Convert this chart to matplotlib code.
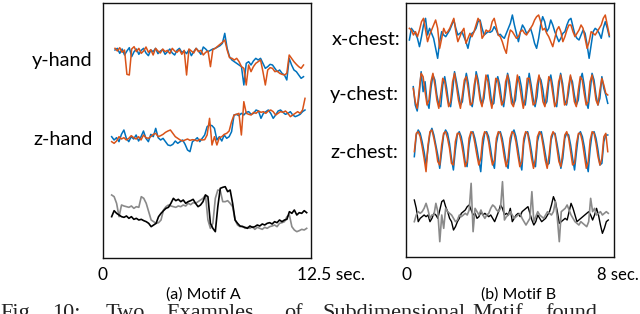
import numpy as np
import matplotlib
matplotlib.use("Agg")
import matplotlib.pyplot as plt

# ---------------- data (hand-read signal levels; larger = lower on the page) -------------
# Motif A (12.5 s window)
a_yhand_blue = [75, 70, 85, 72, 90, 78, 68, 95, 80, 72,
                88, 76, 70, 84, 92, 75, 80, 70, 86, 78,
                74, 88, 80, 72, 84, 90, 76, 70, 82, 78,
                86, 74, 92, 80, 70, 78, 88, 66, 72, 80,
                76, 72, 70, 66, 62, 55, 25, 70, 95, 105,
                110, 115, 120, 125, 180, 115, 110, 120, 108, 100,
                105, 100, 115, 130, 125, 118, 120, 130, 140, 135,
                145, 150, 165, 100, 120, 135, 140, 150, 160, 155]
a_yhand_orange = [70, 78, 68, 82, 75, 148, 150, 72, 65, 80,
                  70, 85, 78, 66, 82, 74, 90, 70, 78, 84,
                  72, 80, 76, 86, 70, 78, 82, 74, 88, 76,
                  150, 72, 78, 84, 70, 80, 76, 90, 82, 78,
                  125, 74, 70, 64, 58, 52, 45, 75, 98, 100,
                  105, 100, 110, 125, 130, 180, 120, 140, 125, 115,
                  110, 105, 140, 180, 135, 128, 130, 140, 138, 145,
                  148, 150, 145, 90, 100, 110, 118, 125, 130, 120]
a_zhand_blue = [125, 135, 128, 140, 118, 105, 130, 140, 125, 132,
                120, 138, 125, 108, 130, 140, 118, 125, 100, 128,
                135, 130, 140, 150, 152, 148, 138, 145, 140, 135,
                148, 165, 170, 140, 135, 128, 140, 130, 120, 95,
                90, 92, 100, 135, 125, 138, 120, 130, 125, 110,
                60, 58, 62, 55, 60, 52, 50, 58, 55, 45,
                48, 70, 55, 50, 45, 55, 70, 60, 48, 45,
                52, 58, 55, 50, 60, 65, 62, 58, 50, 45]
a_zhand_orange = [140, 145, 138, 125, 132, 128, 135, 130, 122, 128,
                  132, 125, 135, 120, 128, 130, 125, 118, 115, 125,
                  122, 118, 112, 108, 105, 115, 125, 130, 135, 138,
                  135, 132, 136, 134, 135, 138, 133, 135, 134, 120,
                  70, 150, 125, 150, 128, 125, 118, 115, 108, 80,
                  60, 58, 55, 120, 20, 55, 58, 60, 52, 55,
                  48, 52, 50, 55, 48, 45, 50, 60, 55, 50,
                  52, 48, 55, 65, 60, 55, 50, 55, 45, 10]
a_other_black = [140, 122, 130, 135, 140, 142, 138, 145, 140, 148,
                 145, 150, 148, 152, 155, 160, 170, 165, 160, 140,
                 130, 122, 115, 112, 100, 85, 92, 88, 95, 90,
                 100, 95, 92, 88, 100, 110, 105, 95, 75, 80,
                 160, 175, 185, 110, 55, 52, 50, 65, 60, 100,
                 150, 160, 168, 170, 172, 175, 168, 172, 170, 165,
                 168, 162, 165, 160, 158, 162, 155, 158, 150, 155,
                 150, 148, 125, 130, 120, 135, 128, 130, 122, 128]
a_other_gray = [75, 80, 100, 140, 105, 108, 110, 112, 108, 115,
                110, 112, 80, 85, 100, 125, 150, 155, 160, 158,
                150, 120, 110, 105, 108, 110, 112, 108, 110, 105,
                108, 100, 104, 98, 100, 95, 90, 85, 75, 150,
                175, 160, 85, 60, 62, 95, 95, 92, 100, 110,
                150, 165, 170, 168, 175, 172, 175, 170, 178, 172,
                175, 178, 172, 175, 170, 168, 165, 170, 160, 158,
                155, 140, 135, 170, 180, 185, 182, 178, 180, 175]

# Motif B (8 s window)
b_xchest_blue = [105, 70, 78, 85, 100, 125, 95, 60, 40, 90,
                 70, 85, 100, 130, 160, 110, 80, 90, 95, 85,
                 75, 60, 45, 70, 90, 85, 80, 95, 110, 130,
                 100, 85, 80, 70, 50, 45, 70, 90, 85, 80,
                 82, 78, 65, 75, 90, 88, 95, 100, 85, 70,
                 55, 30, 60, 85, 110, 80, 60, 70, 85, 80,
                 70, 90, 115, 130, 100, 60, 35, 50, 80, 70,
                 45, 60, 80, 95, 110, 100, 85, 80, 60, 45,
                 40, 65, 90, 100, 105, 90, 75, 85, 120, 160,
                 120, 80, 70, 75, 85, 100, 70, 50, 70, 95]
b_xchest_orange = [70, 75, 90, 80, 95, 75, 50, 40, 75, 110,
                   90, 75, 60, 45, 70, 130, 100, 70, 85, 80,
                   70, 55, 40, 80, 110, 95, 80, 70, 115, 100,
                   85, 95, 80, 60, 40, 50, 100, 90, 75, 80,
                   75, 50, 40, 65, 90, 95, 110, 130, 145, 100,
                   75, 80, 90, 100, 95, 80, 75, 85, 90, 80,
                   70, 60, 45, 35, 30, 50, 75, 70, 85, 95,
                   110, 125, 100, 75, 65, 80, 110, 95, 75, 60,
                   60, 80, 95, 85, 75, 60, 70, 100, 130, 110,
                   80, 85, 90, 80, 70, 60, 40, 30, 60, 90]
b_ychest_blue = [245, 300, 318, 270, 200, 260, 230, 290, 310, 250,
                 210, 225, 270, 300, 305, 240, 215, 250, 295, 305,
                 260, 200, 230, 265, 300, 290, 240, 205, 235, 290,
                 305, 265, 200, 225, 270, 300, 280, 220, 210, 250,
                 300, 295, 235, 215, 240, 285, 305, 260, 205, 230,
                 275, 300, 285, 225, 215, 245, 295, 300, 250, 205,
                 240, 280, 305, 275, 215, 225, 255, 300, 290, 230,
                 210, 245, 295, 305, 250, 205, 235, 285, 300, 265,
                 215, 230, 270, 300, 285, 225, 205, 240, 290, 310,
                 260, 205, 225, 270, 300, 280, 215, 250, 270, 295]
b_ychest_orange = [250, 290, 310, 255, 205, 215, 260, 300, 285, 230,
                   205, 240, 285, 310, 265, 220, 230, 270, 305, 290,
                   230, 205, 245, 285, 310, 270, 225, 215, 255, 300,
                   295, 240, 210, 240, 285, 305, 260, 210, 230, 280,
                   310, 270, 220, 225, 265, 300, 290, 230, 210, 250,
                   295, 305, 255, 210, 235, 275, 310, 280, 220, 220,
                   260, 300, 295, 240, 210, 240, 290, 305, 260, 215,
                   225, 265, 305, 290, 230, 210, 250, 300, 295, 245,
                   210, 245, 290, 305, 255, 215, 225, 265, 300, 290,
                   230, 210, 240, 285, 300, 255, 220, 240, 265, 270]
b_zchest_blue = [125, 60, 45, 55, 80, 110, 150, 100, 55, 40,
                 60, 90, 120, 160, 110, 60, 45, 55, 85, 130,
                 165, 105, 60, 50, 65, 95, 140, 155, 90, 55,
                 50, 70, 100, 135, 170, 95, 55, 50, 65, 100,
                 140, 160, 85, 55, 50, 70, 105, 145, 160, 90,
                 55, 45, 65, 100, 140, 165, 85, 55, 50, 75,
                 110, 150, 155, 80, 55, 50, 80, 115, 150, 145,
                 75, 55, 55, 85, 120, 160, 130, 70, 55, 60,
                 90, 130, 165, 110, 60, 50, 65, 95, 140, 170,
                 100, 55, 50, 70, 105, 150, 145, 80, 60, 60]
b_zchest_orange = [110, 55, 50, 65, 95, 130, 170, 90, 50, 45,
                   70, 100, 140, 150, 90, 55, 50, 70, 100, 145,
                   150, 80, 55, 55, 80, 115, 155, 140, 70, 50,
                   55, 85, 120, 150, 130, 70, 50, 55, 80, 120,
                   150, 135, 70, 50, 55, 85, 125, 155, 130, 70,
                   50, 55, 80, 120, 155, 140, 70, 50, 55, 90,
                   130, 160, 130, 65, 50, 60, 95, 135, 160, 120,
                   65, 50, 60, 100, 140, 155, 110, 60, 50, 70,
                   110, 150, 145, 85, 55, 55, 80, 120, 160, 140,
                   75, 50, 55, 85, 125, 150, 130, 65, 55, 110]
b_other_black = [255, 280, 320, 310, 305, 300, 305, 300, 320, 310,
                 295, 300, 310, 285, 260, 255, 275, 290, 310, 320,
                 345, 335, 320, 310, 295, 290, 285, 275, 270, 285,
                 300, 295, 310, 305, 290, 300, 295, 300, 305, 300,
                 310, 320, 305, 290, 270, 280, 300, 295, 300, 280,
                 320, 310, 300, 295, 305, 290, 285, 280, 275, 295,
                 315, 330, 320, 300, 310, 320, 315, 310, 300, 290,
                 270, 245, 260, 290, 325, 320, 315, 310, 315, 290,
                 265, 280, 300, 320, 315, 310, 305, 300, 295, 290,
                 300, 315, 300, 280, 300, 330, 355, 340, 320, 315]
b_other_gray = [320, 300, 290, 295, 290, 280, 265, 285, 310, 300,
                300, 265, 290, 380, 300, 340, 280, 290, 295, 300,
                310, 320, 315, 300, 305, 300, 295, 300, 285, 205,
                350, 280, 290, 300, 285, 300, 310, 300, 295, 280,
                270, 275, 285, 290, 280, 200, 315, 305, 300, 290,
                300, 310, 305, 300, 295, 310, 320, 330, 320, 310,
                230, 320, 305, 290, 300, 305, 310, 300, 290, 295,
                300, 290, 260, 310, 380, 290, 285, 280, 270, 285,
                300, 310, 320, 325, 330, 320, 325, 330, 335, 320,
                250, 290, 280, 300, 295, 290, 300, 295, 290, 295]

row_labels_a = ["y-hand", "z-hand"]
row_labels_b = ["x-chest:", "y-chest:", "z-chest:"]
axis_max_a = "12.5 sec."
axis_max_b = "8 sec."
titles = ["(a) Motif A", "(b) Motif B"]
caption_words = ["Fig.", "10:", "Two", "Examples", "of", "Subdimensional", "Motif", "found"]

# ---------------- styling / layout ----------------
BLUE = "#0072BD"
ORANGE = "#D95319"
BLACK = "#000000"
GRAY = "#8a8a8a"
SANS = ["Lato", "DejaVu Sans"]
SERIF = ["Liberation Serif", "DejaVu Serif"]

W, H = 640, 314
fig = plt.figure(figsize=(6.4, 3.14), dpi=100)


def px_axes(x0, y0, x1, y1):
    return fig.add_axes([x0 / W, 1 - y1 / H, (x1 - x0) / W, (y1 - y0) / H])


def ftext(x, y, s, **kw):
    fig.text(x / W, 1 - y / H, s, **kw)


def trace(ax, vals, t0, t1, base, color, lw=1.1, z=2):
    v = np.asarray(vals, dtype=float)
    t = np.linspace(t0, t1, len(v))
    ax.plot(t, base + v / 3.0, color=color, lw=lw, zorder=z, solid_joinstyle="round")


# Panel A
axA = px_axes(103, 3, 311, 258)
axA.set_xlim(0, 12.5)
axA.set_ylim(255, 0)
trace(axA, a_yhand_blue, 0.72, 12.05, 22, BLUE)
trace(axA, a_yhand_orange, 0.72, 12.05, 22, ORANGE, z=3)
trace(axA, a_zhand_blue, 0.52, 12.14, 92, BLUE)
trace(axA, a_zhand_orange, 0.52, 12.14, 92, ORANGE, z=3)
trace(axA, a_other_gray, 0.52, 12.24, 167, GRAY, lw=1.2)
trace(axA, a_other_black, 0.52, 12.24, 167, BLACK, lw=1.2, z=3)

# Panel B
axB = px_axes(406, 3, 614, 257)
axB.set_xlim(0, 8)
axB.set_ylim(254, 0)
trace(axB, b_xchest_blue, 0.13, 7.82, 2, BLUE)
trace(axB, b_xchest_orange, 0.13, 7.82, 2, ORANGE, z=3)
trace(axB, b_ychest_blue, 0.28, 7.76, 2, BLUE)
trace(axB, b_ychest_orange, 0.28, 7.76, 2, ORANGE, z=3)
trace(axB, b_zchest_blue, 0.32, 7.76, 112, BLUE)
trace(axB, b_zchest_orange, 0.32, 7.76, 112, ORANGE, z=3)
trace(axB, b_other_gray, 0.32, 7.78, 112, GRAY, lw=1.2, z=3)
trace(axB, b_other_black, 0.32, 7.78, 112, BLACK, lw=1.0, z=2)

for ax in (axA, axB):
    ax.set_xticks([])
    ax.set_yticks([])
    for sp in ax.spines.values():
        sp.set_linewidth(1.0)
        sp.set_color("#111111")

# row labels
ftext(32, 66, row_labels_a[0], fontsize=14.3, family=SANS, va="baseline", ha="left")
ftext(33, 145, row_labels_a[1], fontsize=14.3, family=SANS, va="baseline", ha="left")
ftext(332, 45, row_labels_b[0], fontsize=14.3, family=SANS, va="baseline", ha="left")
ftext(330, 100, row_labels_b[1], fontsize=14.3, family=SANS, va="baseline", ha="left")
ftext(330, 158, row_labels_b[2], fontsize=14.3, family=SANS, va="baseline", ha="left")

# axis end labels
ftext(103, 280, "0", fontsize=12.5, family=SANS, va="baseline", ha="center")
ftext(297, 280, axis_max_a, fontsize=12.5, family=SANS, va="baseline", ha="left")
ftext(406, 280, "0", fontsize=12.5, family=SANS, va="baseline", ha="center")
ftext(597, 280, axis_max_b, fontsize=12, family=SANS, va="baseline", ha="left")

# panel titles
ftext(203, 299, titles[0], fontsize=11.5, family=SANS, va="baseline", ha="center")
ftext(519, 299, titles[1], fontsize=11.5, family=SANS, va="baseline", ha="center")

# caption line, clipped by the bottom edge as in the reference
cap_x = [0, 52, 106, 166, 284, 322, 472, 545]
for w, x in zip(caption_words, cap_x):
    ftext(x, 318, w, fontsize=16, family=SERIF, va="baseline", ha="left", color="#222222")

fig.savefig("out.png", dpi=100)
